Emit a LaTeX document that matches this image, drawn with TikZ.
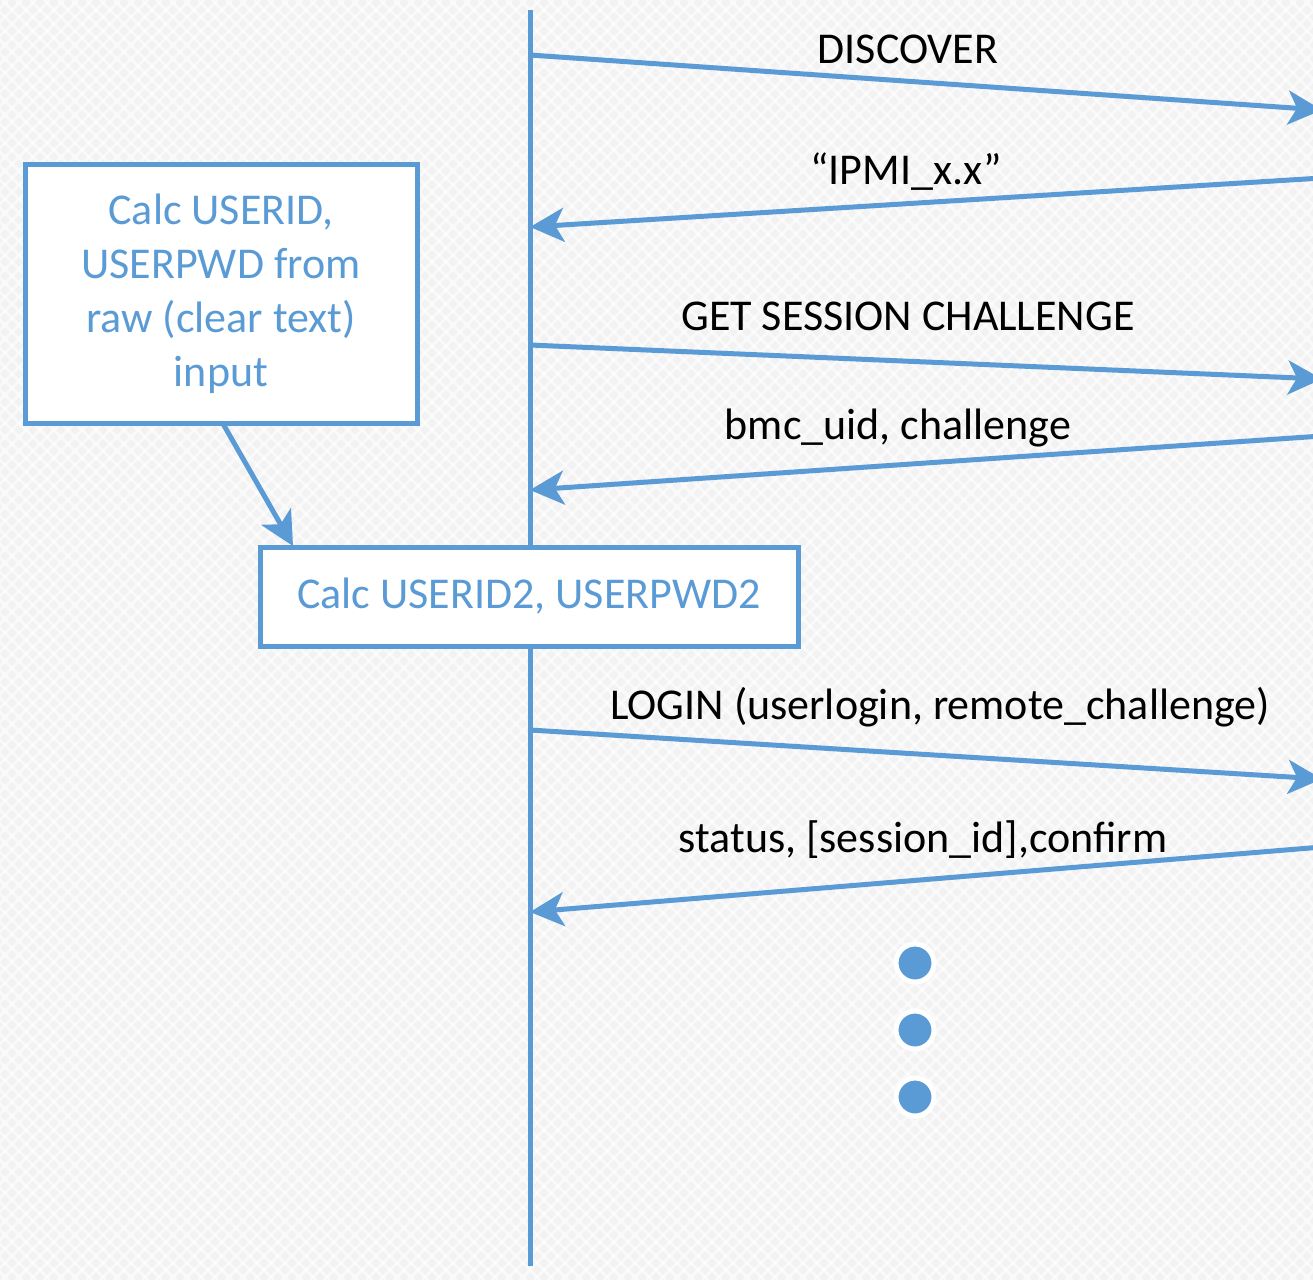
\documentclass[tikz,border=0pt]{standalone}
\usepackage{fontspec}
\setmainfont{Carlito}
\usetikzlibrary{arrows.meta}
\definecolor{lineblue}{HTML}{5B9BD5}
\definecolor{paper}{HTML}{F2F2F2}
\tikzset{
  msg/.style={draw=lineblue, line width=5pt,
    -{Stealth[length=34pt,width=34pt,inset=9pt]}},
  lbl/.style={anchor=base, inner sep=0pt, text=black,
    font=\fontsize{44}{54}\selectfont},
  stepbox/.style={draw=lineblue, line width=5pt, fill=white, text=lineblue,
    font=\fontsize{44}{54}\selectfont, align=center},
  dot/.style={circle, fill=lineblue, draw=white, line width=5pt,
    minimum size=38pt, inner sep=0pt}
}
\begin{document}
\begin{tikzpicture}[x=1pt, y=-1pt]
  % canvas with a faint diamond texture
  \useasboundingbox (0,0) rectangle (1313,1280);
  \fill[paper] (0,0) rectangle (1313,1280);
  \begin{scope}
    \clip (0,0) rectangle (1313,1280);
    \foreach \k in {-1300,-1286,...,1320} {
      \draw[white, line width=3pt, opacity=0.6] (\k,0) -- ++(1280,1280);
      \draw[white, line width=3pt, opacity=0.6] (\k+1280,0) -- ++(-1280,1280);
    }
  \end{scope}

  \begin{scope}
    \clip (0,0) rectangle (1313,1280);
    % lifeline
    \coordinate (top) at (530,10);
    \coordinate (bot) at (530,1266);
    \draw[draw=lineblue, line width=5pt] (top) -- (bot);

    % message end points on the lifeline and beyond the right edge
    \coordinate (a1) at (530,55);   \coordinate (b1) at (1322,110);
    \coordinate (b2) at (1322,178); \coordinate (a2) at (530,227);
    \coordinate (a3) at (530,345);  \coordinate (b3) at (1322,379);
    \coordinate (b4) at (1322,436); \coordinate (a4) at (530,490);
    \coordinate (a5) at (530,730);  \coordinate (b5) at (1322,779);
    \coordinate (b6) at (1322,847); \coordinate (a6) at (530,912);

    \draw[msg] (a1) -- (b1);
    \draw[msg] (b2) -- (a2);
    \draw[msg] (a3) -- (b3);
    \draw[msg] (b4) -- (a4);
    \draw[msg] (a5) -- (b5);
    \draw[msg] (b6) -- (a6);
  \end{scope}

  % message labels
  \node[lbl] (l1) at (908,63)  {DISCOVER};
  \node[lbl] (l2) at (906,184) {“IPMI\_x.x”};
  \node[lbl] (l3) at (908,330) {GET SESSION CHALLENGE};
  \node[lbl] (l4) at (898,439) {bmc\_uid, challenge};
  \node[lbl] (l5) at (940,719) {LOGIN (userlogin, remote\_challenge)};
  \node[lbl] (l6) at (923,852) {status, [session\_id],confirm};

  % processing steps
  \node[stepbox, minimum width=392pt, minimum height=259pt] (calc1) at (221,294)
    {Calc USERID,\\USERPWD from\\raw (clear text)\\input};
  \node[stepbox, minimum width=538pt, minimum height=99pt] (calc2) at (529,596.5)
    {Calc USERID2, USERPWD2};
  \coordinate (c1out) at (222,422);
  \coordinate (c2in) at (293,546);
  \draw[msg] (c1out) -- (c2in);

  % continuation marks
  \node[dot] (d1) at (915,963)  {};
  \node[dot] (d2) at (915,1030) {};
  \node[dot] (d3) at (915,1097) {};
\end{tikzpicture}
\end{document}
